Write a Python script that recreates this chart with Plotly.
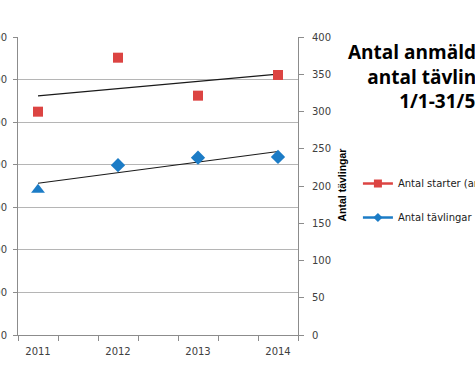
import numpy as np
import plotly.graph_objects as go

years = [2011, 2012, 2013, 2014]
starter = [2623, 3257, 2811, 3054]      # Antal starter (left axis)
tavlingar = [195, 228, 238, 239]        # Antal tävlingar (right axis)
left_ticks = [0, 500, 1000, 1500, 2000, 2500, 3000, 3500]
right_ticks = [0, 50, 100, 150, 200, 250, 300, 350, 400]

red = "#dc4442"
blue = "#1c7cc6"
tick_family = "'DejaVu Sans', sans-serif"

fig = go.Figure()

# trend lines (linear fit of the data)
yr = np.array(years, dtype=float)
p1 = np.polyfit(yr, starter, 1)
p2 = np.polyfit(yr, tavlingar, 1)
fig.add_trace(go.Scatter(x=years, y=np.polyval(p1, yr), mode="lines",
                         line=dict(color="#1a1a1a", width=1.2), showlegend=False, yaxis="y"))
fig.add_trace(go.Scatter(x=years, y=np.polyval(p2, yr), mode="lines",
                         line=dict(color="#1a1a1a", width=1.2), showlegend=False, yaxis="y2"))

fig.add_trace(go.Scatter(x=years, y=starter, mode="markers", showlegend=False,
                         marker=dict(symbol="square", size=10, color=red, opacity=1,
                                     line=dict(width=0)), yaxis="y"))
fig.add_trace(go.Scatter(x=years, y=tavlingar, mode="markers", showlegend=False,
                         marker=dict(symbol=["triangle-up", "diamond", "diamond", "diamond"],
                                     size=[12, 11, 11, 11], color=blue, opacity=1,
                                     line=dict(width=0)), yaxis="y2"))

# legend entries
fig.add_trace(go.Scatter(x=[None], y=[None], mode="lines+markers", name="Antal starter (anmälda)",
                         line=dict(color=red, width=2.5), marker=dict(symbol="square", size=8, color=red),
                         legendgroup="a"))
fig.add_trace(go.Scatter(x=[None], y=[None], mode="lines+markers", name="Antal tävlingar",
                         line=dict(color=blue, width=2.5), marker=dict(symbol="diamond", size=7, color=blue),
                         legendgroup="b", yaxis="y2"))

tick_font = dict(family=tick_family, size=10, color="#404040")

fig.update_layout(
    width=475, height=390,
    margin=dict(l=18, r=177, t=37, b=55, autoexpand=False),
    paper_bgcolor="white", plot_bgcolor="white",
    font=dict(family=tick_family),
    xaxis=dict(range=[2010.75, 2014.25], tickvals=years, ticktext=[str(y) for y in years],
               ticks="", showgrid=False, zeroline=False, showline=True, linecolor="#8c8c8c",
               linewidth=1, tickfont=tick_font, automargin=False, ticklabelstandoff=7,
               minor=dict(tick0=2010.75, dtick=0.5, ticks="outside", ticklen=5,
                          tickcolor="#8c8c8c", showgrid=False)),
    yaxis=dict(range=[0, 3500], tickvals=left_ticks, showgrid=True, gridcolor="#b5b5b5",
               gridwidth=1, zeroline=False, showline=True, linecolor="#8c8c8c",
               ticks="outside", ticklen=4, tickcolor="#8c8c8c", tickfont=tick_font,
               automargin=False, ticklabelstandoff=4),
    yaxis2=dict(range=[0, 400], tickvals=right_ticks, overlaying="y", side="right",
                showgrid=False, zeroline=False, showline=True, linecolor="#8c8c8c",
                ticks="outside", ticklen=5, tickcolor="#8c8c8c", tickfont=tick_font,
                automargin=False, ticklabelstandoff=6),
    legend=dict(x=1.214, xanchor="left", y=0.557, yanchor="top", traceorder="grouped",
                tracegroupgap=15, font=dict(family=tick_family, size=10, color="#1a1a1a"),
                bgcolor="rgba(0,0,0,0)"),
    annotations=[
        dict(text="Antal anmälda och<br>antal tävlingar<br>1/1-31/5", xref="paper", yref="paper",
             x=1.496, y=0.867, xanchor="center", yanchor="middle", showarrow=False, align="center",
             font=dict(family="'Open Sans', sans-serif", size=19, color="black", weight="bold")),
        dict(text="Antal tävlingar", xref="paper", yref="paper", x=1.157, y=0.505,
             xanchor="center", yanchor="middle", showarrow=False, textangle=-90,
             font=dict(family="'Liberation Sans', Arial, sans-serif", size=10.5, color="black",
                       weight="bold")),
    ],
)

fig.write_html("out.html", config={"displayModeBar": False},
               post_script="document.body.style.margin='0';")
